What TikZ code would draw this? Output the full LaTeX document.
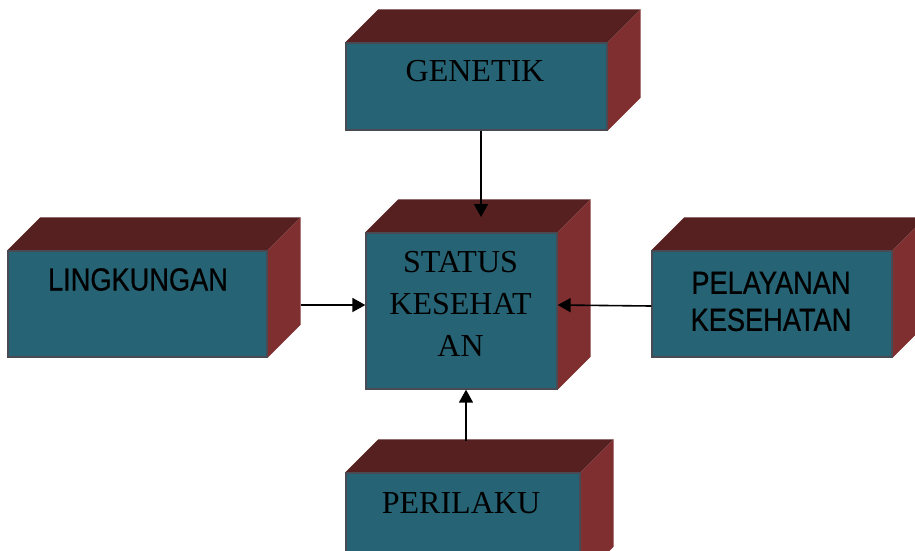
\documentclass[tikz,border=0pt]{standalone}
\usepackage{fontspec}
\setmainfont{Liberation Serif}
\newfontfamily\narrowsans{Liberation Sans}[FakeStretch=0.85,FakeBold=0.6]
\usetikzlibrary{calc,arrows.meta}
\definecolor{frontc}{RGB}{38,99,116}
\definecolor{topc}{RGB}{87,32,32}
\definecolor{sidec}{RGB}{127,47,47}
\definecolor{edgec}{RGB}{72,74,84}
\tikzset{
  front/.style={fill=frontc, draw=edgec, line width=1.3pt, inner sep=0pt},
  serif/.style={font=\fontsize{32}{42}\selectfont, align=center, inner sep=0pt},
  sans/.style={font=\narrowsans\fontsize{32}{37}\selectfont, align=center, inner sep=0pt},
  conn/.style={line width=1.6pt, -{Triangle[length=13pt,width=14pt]}},
}
\newcommand\cubefaces[1]{%
  \fill[topc] (#1.north west) -- ++(33,-33) -- ($(#1.north east)+(33,-33)$) -- (#1.north east) -- cycle;
  \fill[sidec] (#1.north east) -- ++(33,-33) -- ($(#1.south east)+(33,-33)$) -- (#1.south east) -- cycle;
  \draw[edgec, line width=1.3pt] (#1.south west) rectangle (#1.north east);
}
\begin{document}
\begin{tikzpicture}[x=1pt,y=-1pt]
\path[use as bounding box, clip] (0,0) rectangle (915,550);
\fill[white] (0,0) rectangle (915,550);
% boxes
\node[front, minimum width=261, minimum height=87] (gen) at (476.5,86.5) {};
\cubefaces{gen}
\node[front, minimum width=259, minimum height=106] (ling) at (137.5,304) {};
\cubefaces{ling}
\node[front, minimum width=191, minimum height=156] (stat) at (461.5,311) {};
\cubefaces{stat}
\node[front, minimum width=240, minimum height=106] (pel) at (772,304) {};
\cubefaces{pel}
\node[front, minimum width=234, minimum height=106] (per) at (463,526) {};
\cubefaces{per}
% texts
\node[serif] (genT) at (475,71) {GENETIK};
\node[sans] (lingT) at (138,279.5) {LINGKUNGAN};
\node[serif] (statT) at (460.5,304) {STATUS\\KESEHAT\\AN};
\node[sans] (pelT) at (771,301.5) {PELAYANAN\\KESEHATAN};
\node[serif] (perT) at (461,503) {PERILAKU};
% connector ends
\coordinate (statTop) at (481,217);
\coordinate (perTop) at (466,441);
\coordinate (lingSide) at ($(ling.east)+(33,1)$);
% connectors
\draw[conn] (gen.south -| statTop) -- (statTop);
\draw[conn] (lingSide) -- (lingSide -| stat.west);
\draw[conn] ([yshift=-2pt]pel.west) -- ([yshift=-1pt]pel.west -| stat.east);
\draw[conn] (perTop) -- (perTop |- stat.south);
\end{tikzpicture}
\end{document}
